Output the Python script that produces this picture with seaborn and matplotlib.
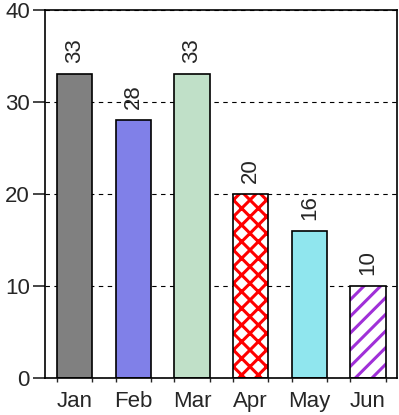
import numpy as np
import pandas as pd
import matplotlib
matplotlib.use("Agg")
import matplotlib.pyplot as plt
from matplotlib.patches import Rectangle
import seaborn as sns

# Chart data
months = ["Jan", "Feb", "Mar", "Apr", "May", "Jun"]
values = [33, 28, 33, 20, 16, 10]
y_ticks = [0, 10, 20, 30, 40]

# Bar styles
bar_colors = ["#808080", "#8080e8", "#c0e0c8", "#ffffff", "#90e6ee", "#ffffff"]
hatch_colors = [None, None, None, "#ff0000", None, "#a030d8"]
hatches = [None, None, None, "xx", None, "//"]

sns.set_style("ticks")
plt.rcParams["font.family"] = ["Liberation Sans", "DejaVu Sans"]
plt.rcParams["hatch.linewidth"] = 2.2

df = pd.DataFrame({"month": months, "value": values})

fig = plt.figure(figsize=(3.99, 4.15), dpi=100)
ax = fig.add_axes([0.113, 0.089, 0.883, 0.887])

sns.barplot(data=df, x="month", y="value", hue="month", palette=bar_colors,
            legend=False, width=0.6, edgecolor="black", linewidth=1.2,
            saturation=1, ax=ax)

# Hatched bars: hatch in colour, then a black outline on top
for p, h, hc in zip(ax.patches, hatches, hatch_colors):
    if h is None:
        continue
    p.set_hatch(h)
    p.set_edgecolor(hc)
    p.set_linewidth(0)
    ax.add_patch(Rectangle((p.get_x(), p.get_y()), p.get_width(), p.get_height(),
                           fill=False, edgecolor="black", linewidth=1.2, zorder=p.get_zorder() + 0.1))

# Value labels above bars
for c in ax.containers:
    ax.bar_label(c, rotation=90, padding=8, fontsize=16)

ax.set_ylim(0, 40)
ax.set_yticks(y_ticks)
ax.set_xlim(-0.5, len(months) - 0.5)
ax.set_xlabel("")
ax.set_ylabel("")

ax.yaxis.grid(True, linestyle=(0, (4, 4)), color="black", linewidth=0.8)
ax.set_axisbelow(True)

# small ticks at bar edges along the x axis
edges = []
for p in ax.patches[:len(months)]:
    edges += [p.get_x(), p.get_x() + p.get_width()]
ax.set_xticks(edges, minor=True)
ax.tick_params(axis="x", which="major", length=0, labelsize=16, pad=9)
ax.tick_params(axis="x", which="minor", length=3, width=1)
ax.tick_params(axis="y", length=9, width=1.2, labelsize=16, pad=2)

for s in ax.spines.values():
    s.set_visible(True)
    s.set_linewidth(1.2)
    s.set_color("black")

fig.savefig("out.png", dpi=100)
